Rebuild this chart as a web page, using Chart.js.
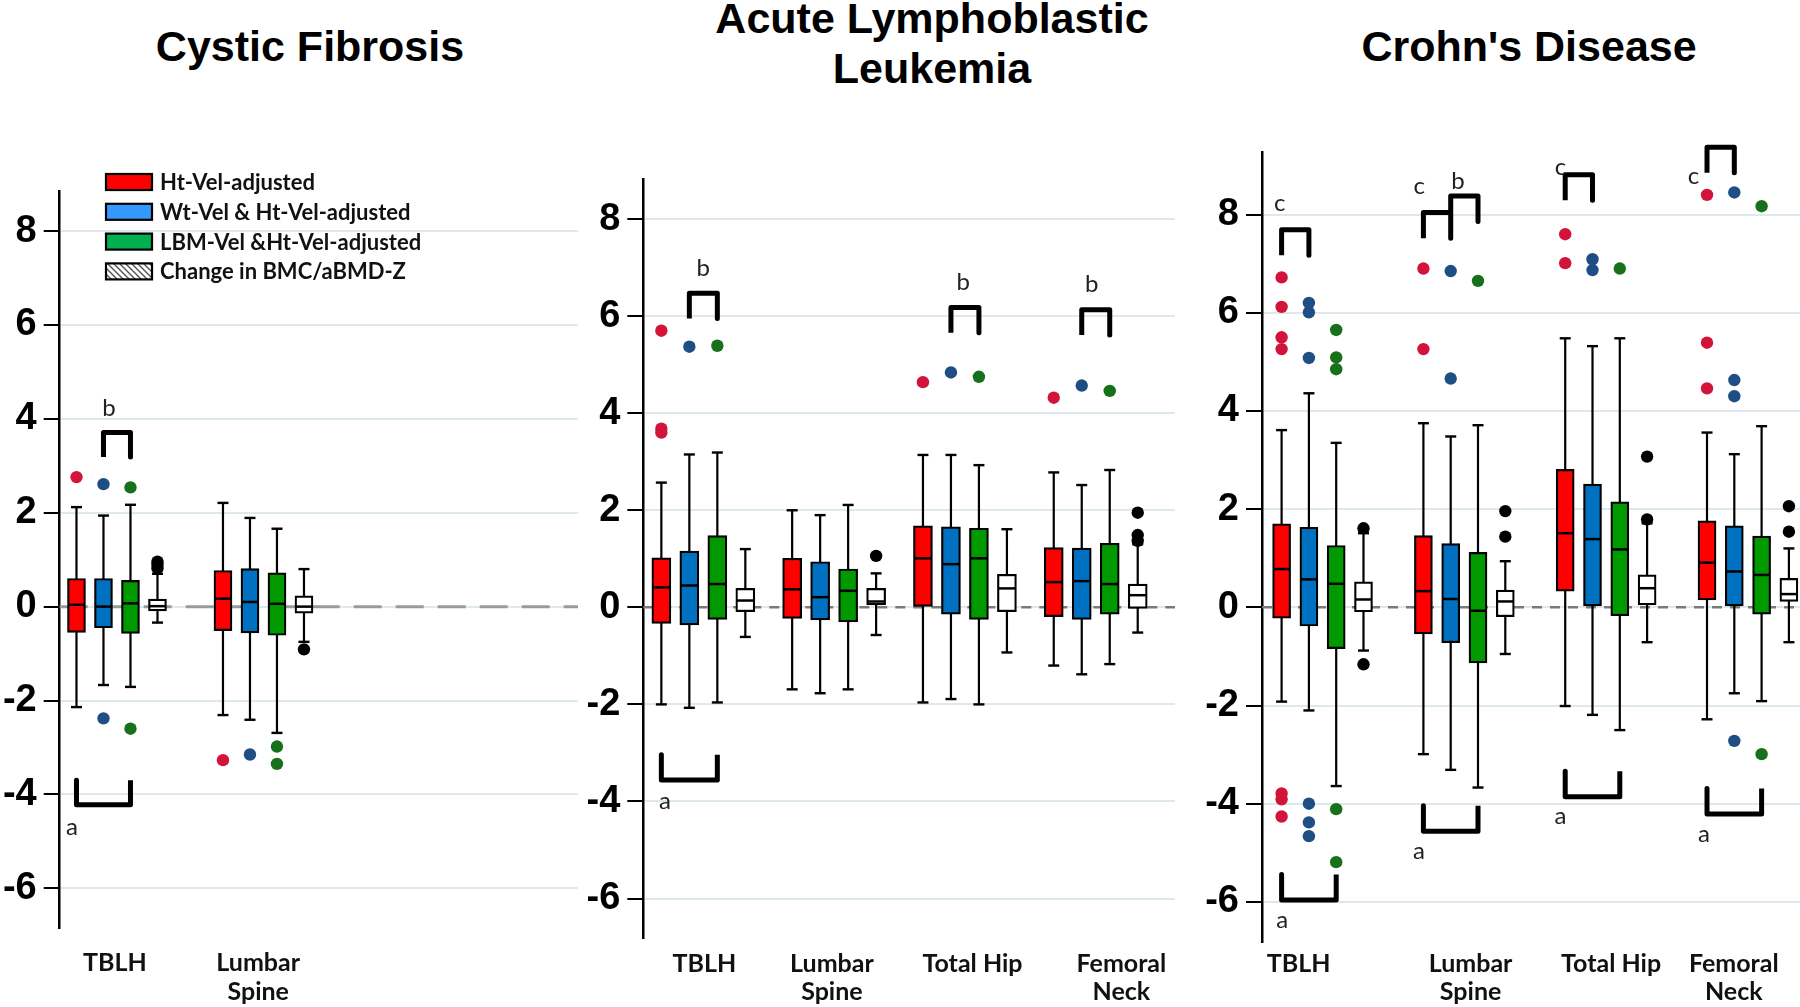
<!DOCTYPE html>
<html lang="en">
<head>
<meta charset="UTF-8">
<title>Change in BMC/aBMD-Z after velocity adjustment</title>
<script src="https://cdn.jsdelivr.net/npm/chart.js"></script>
<style>
    body {
        margin: 0;
        width: 1800px;
        height: 1007px;
        position: relative;
        overflow: hidden;
        background: #fff;
        font-family: 'Liberation Sans', Arial, sans-serif;
    }
    .panel { position: absolute; }
    .title {
        position: absolute;
        width: 600px;
        text-align: center;
        font-weight: bold;
        font-size: 43px;
        line-height: 50px;
        color: #000;
    }
</style>
</head>
<body>
<div class="title" style="left:10px; top:21px;">Cystic Fibrosis</div>
<div class="title" style="left:632px; top:-7px;">Acute Lymphoblastic<br>Leukemia</div>
<div class="title" style="left:1229px; top:21px;">Crohn's Disease</div>

<div class="panel" style="left:0; top:150px;"><canvas id="cf" width="600" height="857"></canvas></div>
<div class="panel" style="left:560px; top:120px;"><canvas id="all" width="640" height="887"></canvas></div>
<div class="panel" style="left:1180px; top:110px;"><canvas id="cd" width="620" height="897"></canvas></div>

<script>
// series (same order everywhere)
const seriesNames = ['Ht-Vel-adjusted', 'Wt-Vel & Ht-Vel-adjusted', 'LBM-Vel &Ht-Vel-adjusted', 'Change in BMC/aBMD-Z'];
const yTicks = [-6, -4, -2, 0, 2, 4, 6, 8];

// boxes: [lower whisker, Q1, median, Q3, upper whisker] per site

// Cystic Fibrosis
const cfSites = [['TBLH'], ['Lumbar', 'Spine']];
const cfHt  = [[-2.14, -0.55, 0.04, 0.60, 2.12], [-2.31, -0.51, 0.17, 0.77, 2.21]];
const cfWt  = [[-1.67, -0.45, 0.00, 0.60, 1.94], [-2.41, -0.56, 0.10, 0.81, 1.89]];
const cfLbm = [[-1.71, -0.57, 0.07, 0.56, 2.17], [-2.69, -0.61, 0.06, 0.72, 1.66]];
const cfChg = [[-0.34, -0.09, 0.01, 0.16, 0.70], [-0.75, -0.14, 0.00, 0.23, 0.80]];
const cfHtOut  = [[2.76], [-3.27]];
const cfWtOut  = [[2.61, -2.38], [-3.15]];
const cfLbmOut = [[2.54, -2.60], [-2.98, -3.35]];
const cfChgOut = [[0.82, 0.90, 0.96], [-0.91]];

// Acute Lymphoblastic Leukemia
const allSites = [['TBLH'], ['Lumbar', 'Spine'], ['Total Hip'], ['Femoral', 'Neck']];
const allHt  = [[-2.00, -0.33, 0.41, 1.02, 2.57], [-1.69, -0.23, 0.37, 1.01, 2.00], [-1.96, 0.00, 1.01, 1.68, 3.14], [-1.20, -0.19, 0.52, 1.23, 2.78]];
const allWt  = [[-2.07, -0.36, 0.45, 1.16, 3.15], [-1.77, -0.26, 0.21, 0.94, 1.90], [-1.89, -0.14, 0.89, 1.66, 3.14], [-1.38, -0.25, 0.54, 1.22, 2.52]];
const allLbm = [[-1.96, -0.25, 0.48, 1.48, 3.19], [-1.69, -0.30, 0.34, 0.79, 2.11], [-2.00, -0.25, 1.01, 1.63, 2.93], [-1.17, -0.14, 0.48, 1.32, 2.83]];
const allChg = [[-0.61, -0.09, 0.14, 0.39, 1.20], [-0.57, 0.05, 0.12, 0.39, 0.70], [-0.93, -0.09, 0.39, 0.68, 1.61], [-0.52, -0.02, 0.25, 0.48, 1.30]];
const allHtOut  = [[5.70, 3.68, 3.60], [], [4.64], [4.32]];
const allWtOut  = [[5.37], [], [4.84], [4.57]];
const allLbmOut = [[5.39], [], [4.75], [4.46]];
const allChgOut = [[], [1.06], [], [1.95, 1.49, 1.37]];

// Crohn's Disease
const cdSites = [['TBLH'], ['Lumbar', 'Spine'], ['Total Hip'], ['Femoral', 'Neck']];
const cdHt  = [[-1.92, -0.22, 0.78, 1.70, 3.61], [-2.99, -0.54, 0.33, 1.46, 3.75], [-2.01, 0.33, 1.51, 2.81, 5.48], [-2.28, 0.15, 0.91, 1.76, 3.56]];
const cdWt  = [[-2.10, -0.38, 0.57, 1.63, 4.36], [-3.31, -0.72, 0.17, 1.30, 3.48], [-2.19, 0.03, 1.39, 2.51, 5.32], [-1.75, 0.03, 0.73, 1.66, 3.12]];
const cdLbm = [[-3.64, -0.84, 0.48, 1.26, 3.35], [-3.67, -1.13, -0.07, 1.12, 3.71], [-2.50, -0.17, 1.18, 2.15, 5.48], [-1.91, -0.14, 0.66, 1.45, 3.69]];
const cdChg = [[-0.88, -0.09, 0.16, 0.52, 1.51], [-0.95, -0.19, 0.12, 0.35, 0.94], [-0.71, 0.05, 0.39, 0.66, 1.71], [-0.71, 0.12, 0.27, 0.59, 1.20]];
const cdHtOut  = [[6.72, 6.12, 5.50, 5.26, -3.79, -3.91, -4.26], [6.90, 5.26], [7.60, 7.01], [8.40, 5.39, 4.46]];
const cdWtOut  = [[6.20, 6.01, 5.08, -4.00, -4.38, -4.66], [6.85, 4.66], [7.09, 6.87], [8.45, 4.63, 4.30, -2.72]];
const cdLbmOut = [[5.65, 5.09, 4.85, -4.11, -5.19], [6.65], [6.90], [8.17, -2.99]];
const cdChgOut = [[1.61, -1.16], [1.96, 1.44], [3.07, 1.79], [2.06, 1.54]];

// significance brackets: [site, from series, to series, level, 'up' = ∩ / 'down' = ⊔]
const cfBrackets  = [[0, 1, 2, 3.71, 'up'], [0, 0, 2, -4.22, 'down']];
const allBrackets = [[0, 1, 2, 6.47, 'up'], [2, 1, 2, 6.18, 'up'], [3, 1, 2, 6.13, 'up'], [0, 0, 2, -3.56, 'down']];
const cdBrackets  = [[0, 0, 1, 7.69, 'up'], [1, 0, 1, 8.04, 'up'], [1, 1, 2, 8.38, 'up'], [2, 0, 1, 8.81, 'up'], [3, 0, 1, 9.37, 'up'],
                     [0, 0, 2, -5.96, 'down'], [1, 0, 2, -4.56, 'down'], [2, 0, 2, -3.86, 'down'], [3, 0, 2, -4.21, 'down']];
// letters: [text, site, series slot, level]
const cfLetters  = [['b', 0, 1.2, 4.23], ['a', 0, -0.17, -4.69]];
const allLetters = [['b', 0, 1.5, 6.98], ['b', 2, 1.44, 6.69], ['b', 3, 1.36, 6.66], ['a', 0, 0.13, -4.0]];
const cdLetters  = [['c', 0, -0.07, 8.24], ['c', 1, -0.15, 8.57], ['b', 1, 1.27, 8.67], ['c', 2, -0.17, 8.97], ['c', 3, -0.5, 8.78],
                    ['a', 0, 0.02, -6.38], ['a', 1, -0.16, -4.96], ['a', 2, -0.17, -4.26], ['a', 3, -0.11, -4.62]];

const boxFill = ['#ff0000', '#0070c0', '#009900', '#ffffff'];
const dotFill = ['#d2143a', '#1f4e85', '#17701a', '#000000'];

function hatchPattern(ctx) {
    const c = document.createElement('canvas');
    c.width = 6; c.height = 6;
    const g = c.getContext('2d');
    g.fillStyle = '#fff';
    g.fillRect(0, 0, 6, 6);
    g.strokeStyle = '#555';
    g.lineWidth = 1.4;
    g.beginPath();
    g.moveTo(-1, -1); g.lineTo(7, 7);
    g.moveTo(-1, 5); g.lineTo(1, 7);
    g.moveTo(5, -1); g.lineTo(7, 1);
    g.stroke();
    return ctx.createPattern(c, 'repeat');
}

const legendPlugin = {
    id: 'boxLegend',
    afterDraw(chart) {
        const ctx = chart.ctx;
        const fills = ['#ff0000', '#3399ff', '#00b050', hatchPattern(ctx)];
        ctx.save();
        seriesNames.forEach((name, i) => {
            const cy = 32 + i * 29.8;
            ctx.fillStyle = fills[i];
            ctx.fillRect(106, cy - 8, 46, 16);
            ctx.strokeStyle = '#000';
            ctx.lineWidth = 2.2;
            ctx.strokeRect(106, cy - 8, 46, 16);
            ctx.fillStyle = '#111';
            ctx.font = 'bold 22px Lato';
            ctx.textBaseline = 'middle';
            ctx.fillText(name, 160, cy + 1);
        });
        ctx.restore();
    }
};

function buildPanel(cfg) {
    const slotX = (site, s) => site + (s - 1.5) * cfg.step;
    const datasets = [];

    // dashed zero reference
    datasets.push({
        type: 'line', data: [{x: cfg.xMin, y: 0}, {x: cfg.xMax, y: 0}],
        borderColor: cfg.zeroColor, borderWidth: cfg.zeroWidth, borderDash: cfg.zeroDash,
        pointRadius: 0, order: 10
    });

    cfg.boxes.forEach((rows, s) => {
        const whisk = [];
        rows.forEach((b, i) => {
            const x = slotX(i, s);
            whisk.push({x: x, y: b[0]}, {x: x, y: b[4]}, {x: x, y: null});
        });
        datasets.push({
            type: 'line', data: whisk, borderColor: '#000', borderWidth: 2.2,
            pointStyle: 'line', pointRadius: 5.5, pointBorderWidth: 2.4, pointBorderColor: '#000',
            order: 6
        });
        datasets.push({
            type: 'bar', data: rows.map((b, i) => ({x: slotX(i, s), y: [b[1], b[3]]})),
            backgroundColor: boxFill[s], borderColor: '#000', borderWidth: 2.2, borderSkipped: false,
            barThickness: cfg.boxW, grouped: false, order: 4
        });
        datasets.push({
            type: 'scatter', data: rows.map((b, i) => ({x: slotX(i, s), y: b[2]})),
            pointStyle: 'line', pointRadius: cfg.boxW / 2 - 1, pointBorderWidth: 2.5, pointBorderColor: '#000',
            order: 3
        });
        const outs = [];
        cfg.outliers[s].forEach((list, i) => list.forEach(v => outs.push({x: slotX(i, s), y: v})));
        datasets.push({
            type: 'scatter', data: outs, pointRadius: 6.2, backgroundColor: dotFill[s],
            borderWidth: 0, order: 2
        });
    });

    // brackets
    const br = [];
    cfg.brackets.forEach(([site, s1, s2, level, dir]) => {
        const x1 = slotX(site, s1), x2 = slotX(site, s2);
        const leg = dir === 'up' ? level - 0.52 : level + 0.52;
        br.push({x: x1, y: leg}, {x: x1, y: level}, {x: x2, y: level}, {x: x2, y: leg}, {x: x2, y: null});
    });
    datasets.push({
        type: 'line', data: br, borderColor: '#000', borderWidth: 5,
        borderJoinStyle: 'round', pointRadius: 0, order: 1
    });
    datasets.forEach(d => { d.clip = false; });

    const letterPlugin = {
        id: 'letters',
        afterDatasetsDraw(chart) {
            const {ctx, scales} = chart;
            ctx.save();
            ctx.font = '24px Lato';
            ctx.fillStyle = '#222';
            ctx.textAlign = 'center';
            ctx.textBaseline = 'middle';
            cfg.letters.forEach(([t, site, slot, level]) => {
                ctx.fillText(t, scales.x.getPixelForValue(slotX(site, slot)), scales.y.getPixelForValue(level));
            });
            ctx.restore();
        }
    };

    new Chart(document.getElementById(cfg.id), {
        type: 'bar',
        data: {datasets: datasets},
        plugins: cfg.legend ? [letterPlugin, legendPlugin] : [letterPlugin],
        options: {
            responsive: false,
            animation: false,
            devicePixelRatio: 1,
            events: [],
            layout: {padding: cfg.padding, autoPadding: false},
            plugins: {legend: {display: false}, tooltip: {enabled: false}},
            scales: {
                x: {
                    type: 'linear', min: cfg.xMin, max: cfg.xMax, offset: false,
                    afterBuildTicks: sc => { sc.ticks = cfg.labelAt.map(v => ({value: v})); },
                    afterFit: sc => { sc.height = cfg.xh; },
                    grid: {display: false, drawTicks: false},
                    border: {display: false},
                    ticks: {
                        autoSkip: false, maxRotation: 0, padding: cfg.labelPad, color: '#111',
                        font: {family: 'Lato', size: 25, weight: 'bold', lineHeight: 1.15},
                        callback: (v, i) => cfg.sites[i]
                    }
                },
                y: {
                    type: 'linear', min: cfg.yMin, max: cfg.yMax,
                    afterBuildTicks: sc => { sc.ticks = yTicks.map(v => ({value: v})); },
                    afterFit: sc => { sc.width = cfg.yw; },
                    grid: {color: '#dde9ee', lineWidth: 2, tickColor: '#000', tickLength: 16, tickWidth: 2},
                    border: {color: '#000', width: 2.5},
                    ticks: {
                        padding: 7, color: '#000',
                        font: {family: 'Liberation Sans', size: 38, weight: 'bold'},
                        callback: v => String(v)
                    }
                }
            }
        }
    });
}

document.fonts.load('bold 22px Lato').then(() => document.fonts.load('24px Lato')).then(() => {
    buildPanel({
        id: 'cf', sites: cfSites, boxes: [cfHt, cfWt, cfLbm, cfChg], outliers: [cfHtOut, cfWtOut, cfLbmOut, cfChgOut],
        brackets: cfBrackets, letters: cfLetters, legend: true,
        xMin: -0.391, xMax: 3.147, yMin: -6.84, yMax: 8.84, step: 0.1843, boxW: 18,
        labelAt: [-0.015, 0.964], labelPad: 21,
        padding: {top: 41.7, right: 22, left: 0, bottom: 0}, yw: 59.7, xh: 79.3,
        zeroColor: '#9a9a9a', zeroWidth: 3, zeroDash: [28, 14]
    });
    buildPanel({
        id: 'all', sites: allSites, boxes: [allHt, allWt, allLbm, allChg], outliers: [allHtOut, allWtOut, allLbmOut, allChgOut],
        brackets: allBrackets, letters: allLetters,
        xMin: -0.459, xMax: 3.606, yMin: -6.82, yMax: 8.82, step: 0.214, boxW: 19,
        labelAt: [0.008, 0.983, 2.058, 3.196], labelPad: 11,
        padding: {top: 59.3, right: 25, left: 0, bottom: 0}, yw: 83.3, xh: 68.7,
        zeroColor: '#7a7a7a', zeroWidth: 2.5, zeroDash: [10, 8]
    });
    buildPanel({
        id: 'cd', sites: cdSites, boxes: [cdHt, cdWt, cdLbm, cdChg], outliers: [cdHtOut, cdWtOut, cdLbmOut, cdChgOut],
        brackets: cdBrackets, letters: cdLetters,
        xMin: -0.427, xMax: 3.367, yMin: -6.81, yMax: 9.26, step: 0.1925, boxW: 18,
        labelAt: [-0.169, 1.044, 2.035, 2.9], labelPad: 7.5,
        padding: {top: 42.7, right: 0, left: 0, bottom: 0}, yw: 82, xh: 65.3,
        zeroColor: '#7a7a7a', zeroWidth: 2.5, zeroDash: [10, 8]
    });
});
</script>
</body>
</html>
